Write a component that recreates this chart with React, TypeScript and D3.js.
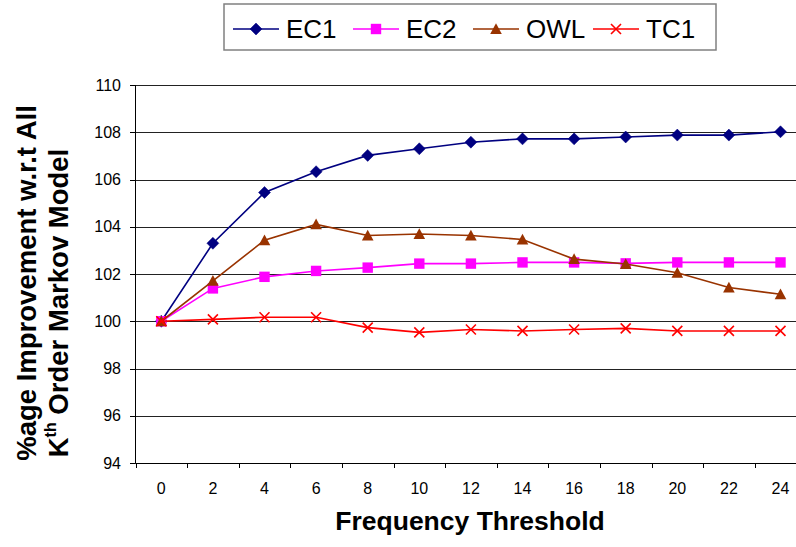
import React from "react";
import * as d3 from "d3";

const thresholds = ["0", "2", "4", "6", "8", "10", "12", "14", "16", "18", "20", "22", "24"];
const ec1 = [100, 103.3, 105.45, 106.33, 107.02, 107.3, 107.58, 107.72, 107.72, 107.8, 107.88, 107.88, 108.02];
const ec2 = [100, 101.39, 101.88, 102.13, 102.27, 102.44, 102.44, 102.49, 102.49, 102.45, 102.49, 102.49, 102.49];
const owl = [100, 101.71, 103.43, 104.1, 103.63, 103.69, 103.63, 103.46, 102.63, 102.42, 102.05, 101.43, 101.14];
const tc1 = [100, 100.08, 100.17, 100.17, 99.73, 99.53, 99.65, 99.59, 99.65, 99.7, 99.59, 99.59, 99.59];
const yTicks = [94, 96, 98, 100, 102, 104, 106, 108, 110];
const seriesNames = ["EC1", "EC2", "OWL", "TC1"];

const W = 796;
const H = 547;
const FONT = "Arial, 'Liberation Sans', Helvetica, sans-serif";

const series = [
  { name: seriesNames[0], values: ec1, color: "#000080", marker: "diamond" },
  { name: seriesNames[1], values: ec2, color: "#FF00FF", marker: "square" },
  { name: seriesNames[2], values: owl, color: "#993300", marker: "triangle" },
  { name: seriesNames[3], values: tc1, color: "#FF0000", marker: "x" },
];

function Marker({ type, x, y, color }: { type: string; x: number; y: number; color: string }) {
  if (type === "diamond") {
    const s = 6;
    return <path d={`M${x},${y - s}L${x + s},${y}L${x},${y + s}L${x - s},${y}Z`} fill={color} stroke={color} strokeWidth={0.5} />;
  }
  if (type === "square") {
    const s = 5.2;
    return <rect x={x - s} y={y - s} width={2 * s} height={2 * s} fill={color} />;
  }
  if (type === "triangle") {
    const s = 5.8;
    return <path d={`M${x},${y - s}L${x + s},${y + s * 0.85}L${x - s},${y + s * 0.85}Z`} fill={color} />;
  }
  const s = 5;
  return (
    <path d={`M${x - s},${y - s}L${x + s},${y + s}M${x - s},${y + s}L${x + s},${y - s}`} stroke={color} strokeWidth={1.6} fill="none" />
  );
}

export default function App() {
  const x = d3.scaleBand<string>().domain(thresholds).range([135.5, 806.3]);
  const y = d3.scaleLinear().domain([94, 110]).range([463, 85]);
  const cx = (c: string) => (x(c) as number) + x.bandwidth() / 2;
  const line = d3
    .line<number>()
    .x((_, i) => cx(thresholds[i]))
    .y((v) => y(v));

  const boundaries = thresholds.map((c) => x(c) as number).concat([x.range()[1]]);

  return (
    <svg width={W} height={H} style={{ position: "absolute", left: 0, top: 0, background: "#fff" }} fontFamily={FONT}>
      <rect x={0} y={0} width={W} height={H} fill="#fff" />
      {/* gridlines */}
      {yTicks.map((t) => (
        <line key={t} x1={135.5} x2={W} y1={Math.round(y(t)) + 0.5} y2={Math.round(y(t)) + 0.5} stroke="#222" strokeWidth={1} />
      ))}
      {/* y axis */}
      <line x1={135.5} x2={135.5} y1={85} y2={463.5} stroke="#000" />
      {yTicks.map((t) => (
        <g key={"yt" + t}>
          <line x1={130} x2={135.5} y1={Math.round(y(t)) + 0.5} y2={Math.round(y(t)) + 0.5} stroke="#000" />
          <text x={121} y={y(t)} dy="0.35em" textAnchor="end" fontSize={16}>
            {t}
          </text>
        </g>
      ))}
      {/* x axis */}
      <line x1={135.5} x2={W} y1={463.5} y2={463.5} stroke="#000" />
      {boundaries.map((b, i) => (
        <line key={"xb" + i} x1={Math.round(b) + 0.5} x2={Math.round(b) + 0.5} y1={463.5} y2={468} stroke="#000" />
      ))}
      {thresholds.map((c) => (
        <text key={"xl" + c} x={cx(c)} y={494} textAnchor="middle" fontSize={16}>
          {c}
        </text>
      ))}
      {/* series */}
      {series.map((s) => (
        <g key={s.name}>
          <path d={line(s.values) as string} fill="none" stroke={s.color} strokeWidth={1.6} />
          {s.values.map((v, i) => (
            <Marker key={i} type={s.marker} x={cx(thresholds[i])} y={y(v)} color={s.color} />
          ))}
        </g>
      ))}
      {/* axis titles */}
      <text x={470} y={530} textAnchor="middle" fontSize={26.5} fontWeight="bold">
        Frequency Threshold
      </text>
      <text transform="translate(36,283) rotate(-90)" textAnchor="middle" fontSize={27.5} fontWeight="bold">
        %age Improvement w.r.t All
      </text>
      <text transform="translate(68,303) rotate(-90)" textAnchor="middle" fontSize={27.5} fontWeight="bold">
        K
        <tspan fontSize={16} dy={-12}>
          th
        </tspan>
        <tspan dy={12}> Order Markov Model</tspan>
      </text>
      {/* legend */}
      <rect x={224} y={4} width={492} height={46} fill="#fff" stroke="#808080" strokeWidth={1.5} />
      {series.map((s, i) => {
        const lx = 233 + i * 120;
        return (
          <g key={"lg" + s.name}>
            <line x1={lx} x2={lx + 46} y1={29} y2={29} stroke={s.color} strokeWidth={1.6} />
            <Marker type={s.marker} x={lx + 23} y={29} color={s.color} />
            <text x={lx + 53} y={37.5} fontSize={26}>
              {s.name}
            </text>
          </g>
        );
      })}
    </svg>
  );
}
